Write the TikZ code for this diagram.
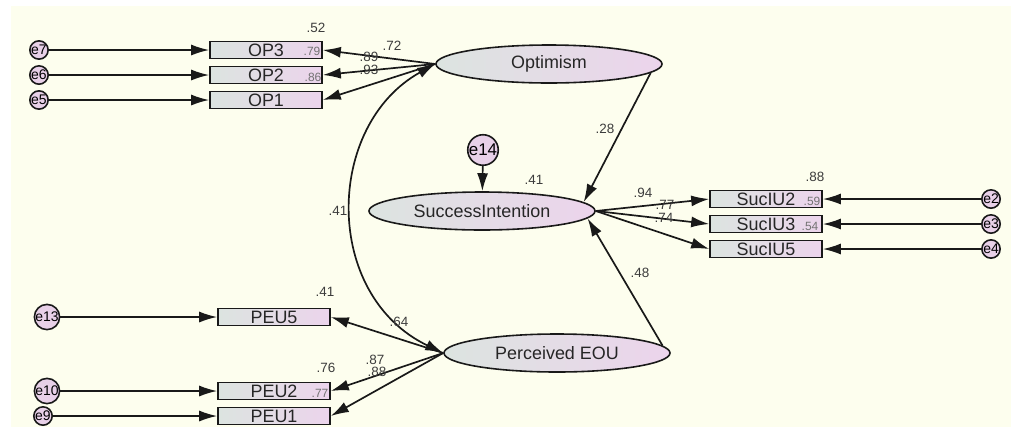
\documentclass[tikz,border=0pt]{standalone}
\usepackage{fontspec}
\setmainfont{Liberation Sans}
\usetikzlibrary{shapes.geometric,arrows.meta}
\definecolor{bgc}{RGB}{253,254,238}
\definecolor{gl}{RGB}{220,228,224}
\definecolor{pk}{RGB}{236,212,236}
\definecolor{epk}{RGB}{232,208,232}
\definecolor{lab}{RGB}{60,60,60}
\tikzset{
  obs/.style={draw=black!90, line width=1.6pt, left color=gl, right color=pk, minimum width=112bp, minimum height=17bp, inner sep=0pt, font=\fontsize{18}{18}\selectfont, text=black!85},
  lat/.style={ellipse, draw=black!90, line width=1.6pt, left color=gl, right color=pk, minimum width=226bp, minimum height=38bp, inner sep=0pt, font=\fontsize{18}{18}\selectfont, text=black!85},
  err/.style={circle, draw=black!90, line width=1.6pt, fill=epk, minimum size=17bp, inner sep=0pt, font=\fontsize{14}{14}\selectfont, text=black},
  lbl/.style={font=\fontsize{13.5}{13.5}\selectfont, text=lab, inner sep=0pt},
  sml/.style={font=\fontsize{12}{12}\selectfont, text=black!55, inner sep=0pt},
  arr/.style={line width=1.7pt, draw=black!90, -{Latex[length=18bp,width=11bp]}},
  darr/.style={line width=1.7pt, draw=black!90, {Latex[length=18bp,width=11bp]}-{Latex[length=18bp,width=11bp]}}
}
\begin{document}
\begin{tikzpicture}[x=1bp,y=-1bp]
\useasboundingbox (0,0) rectangle (1011,427);
\fill[white] (0,0) rectangle (1011,427);
\fill[bgc] (11,6) rectangle (1011,427);
% observed boxes
\node[obs] (op3) at (266,50) {OP3};
\node[obs] (op2) at (266,75) {OP2};
\node[obs] (op1) at (266,100) {OP1};
\node[obs] (s2) at (766,199) {SucIU2};
\node[obs] (s3) at (766,224) {SucIU3};
\node[obs] (s5) at (766,249) {SucIU5};
\node[obs] (p5) at (274,317) {PEU5};
\node[obs] (p2) at (274,391) {PEU2};
\node[obs] (p1) at (274,416) {PEU1};
% latent
\node[lat] (opt) at (549,64) {Optimism};
\node[lat] (si) at (482,211) {SuccessIntention};
\node[lat] (peu) at (557,353) {Perceived EOU};
% errors
\node[err] (e7) at (39,50) {e7};
\node[err] (e6) at (39,75) {e6};
\node[err] (e5) at (39,100) {e5};
\node[err] (e2) at (991,199) {e2};
\node[err] (e3) at (991,224) {e3};
\node[err] (e4) at (991,249) {e4};
\node[err] (e13) at (47,317) {e13};
\node[err] (e10) at (47,391) {e10};
\node[err] (e9) at (43,416) {e9};
\node[err, minimum size=30bp, font=\fontsize{17}{17}\selectfont] (e14) at (483,150) {e14};
% error arrows
\draw[arr] (e7) -- (op3);
\draw[arr] (e6) -- (op2);
\draw[arr] (e5) -- (op1);
\draw[arr] (e2) -- (s2);
\draw[arr] (e3) -- (s3);
\draw[arr] (e4) -- (s5);
\draw[arr] (e13) -- (p5);
\draw[arr] (e10) -- (p2);
\draw[arr] (e9) -- (p1);
\draw[arr] (e14) -- (si);
% loadings
\draw[arr] (opt.west) -- (op3.east);
\draw[arr] (opt.west) -- (op2.east);
\draw[arr] (opt.west) -- (op1.east);
\draw[arr] (si.east) -- (s2.west);
\draw[arr] (si.east) -- (s3.west);
\draw[arr] (si.east) -- (s5.west);
\draw[arr] (peu.west) -- (p5.east);
\draw[arr] (peu.west) -- (p2.east);
\draw[arr] (peu.west) -- (p1.east);
% structural
\draw[arr] (opt.-5) -- (si.5);
\draw[arr] (peu.4) -- (si.-4);
% covariance
\draw[darr] (opt.west) .. controls (325,125) and (322,295) .. (peu.west);
% labels
\node[lbl] at (316,28) {.52};
\node[sml] at (312,51) {.79};
\node[sml] at (313,77) {.86};
\node[lbl] at (392,46) {.72};
\node[lbl] at (369,57) {.89};
\node[lbl] at (369,70) {.93};
\node[lbl] at (605,129) {.28};
\node[lbl] at (534,180) {.41};
\node[lbl] at (338,211) {.41};
\node[lbl] at (643,193) {.94};
\node[lbl] at (665,205) {.77};
\node[lbl] at (664,218) {.74};
\node[lbl] at (815,177) {.88};
\node[sml] at (812,201) {.59};
\node[sml] at (810,226) {.54};
\node[lbl] at (640,273) {.48};
\node[lbl] at (325,292) {.41};
\node[lbl] at (399,322) {.64};
\node[lbl] at (326,368) {.76};
\node[lbl] at (375,360) {.87};
\node[lbl] at (377,372) {.88};
\node[sml] at (320,393) {.77};
\end{tikzpicture}
\end{document}
